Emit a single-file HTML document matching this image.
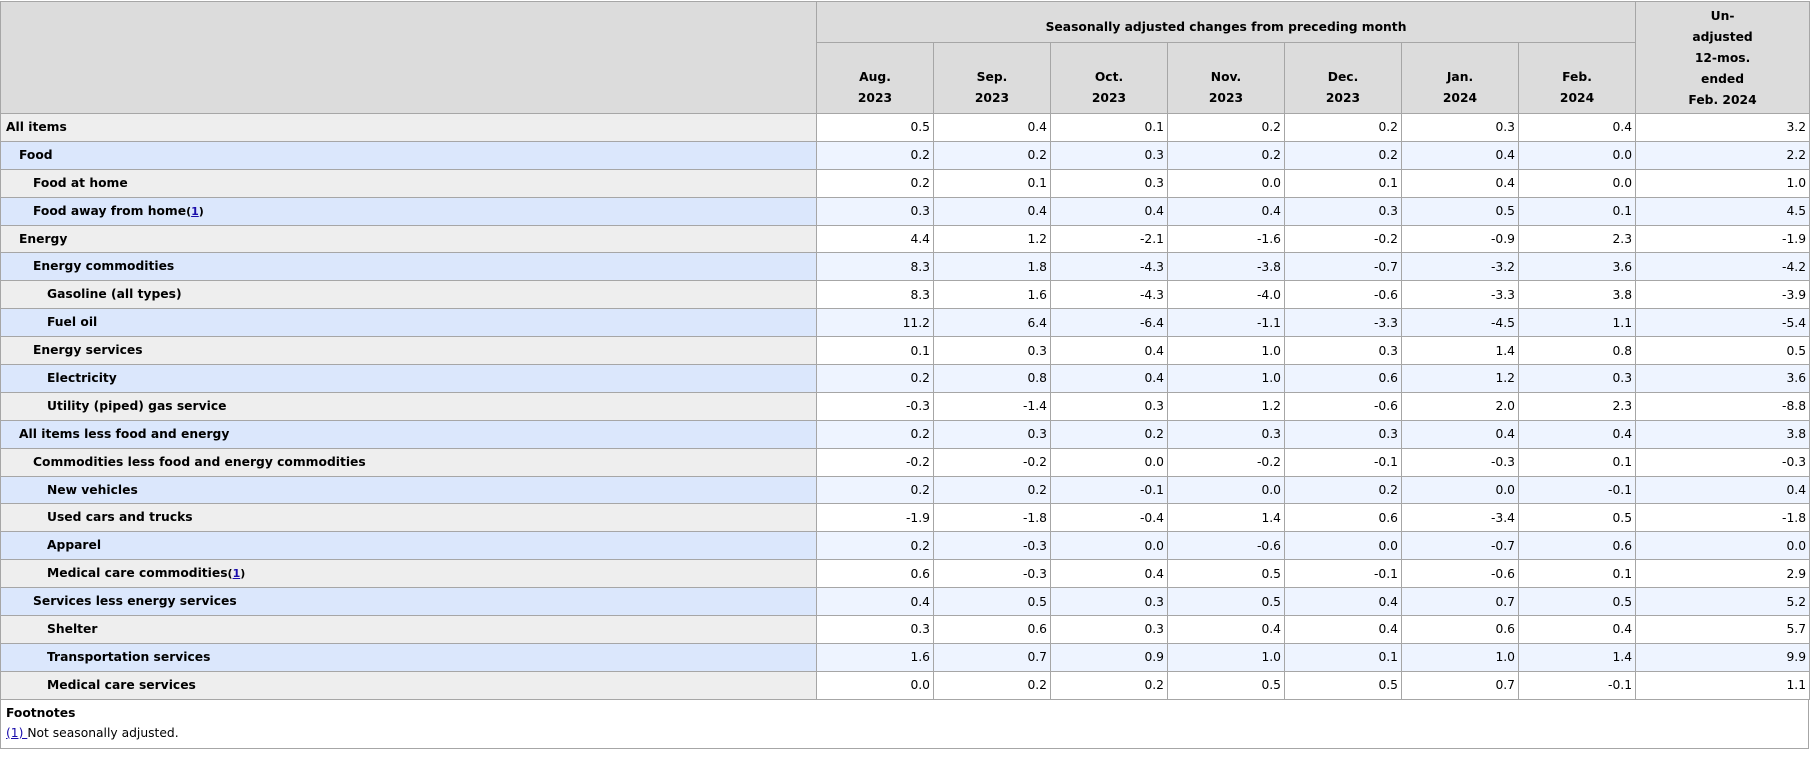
<!DOCTYPE html>
<html><head><meta charset="utf-8"><style>
html,body{margin:0;padding:0;background:#fff;width:1810px;height:759px;overflow:hidden}
body{font-family:"DejaVu Sans","Liberation Sans",sans-serif;font-size:12.3px;color:#000}
table{position:absolute;left:0;top:1px;border-collapse:collapse;table-layout:fixed;width:1809px}
td,th{border:1px solid #a6a6a6;padding:0 3px;box-sizing:border-box;overflow:hidden;white-space:nowrap}
th{background:#dcdcdc;font-weight:bold;text-align:center;line-height:21px}
tbody tr{height:27.9px}
tbody th{text-align:left;font-weight:bold}
tbody td{text-align:right}
tr.g th{background:#eeeeee} tr.g td{background:#fff}
tr.b th{background:#dbe7fc} tr.b td{background:#eef4ff}
.l0{padding-left:5px}.l1{padding-left:18px}.l2{padding-left:32px}.l3{padding-left:46px}
a{color:#1a0dab}
.fn{position:absolute;left:0;top:699px;width:1809px;height:50px;border:1px solid #a6a6a6;border-top:none;box-sizing:border-box;padding:4px 5px;line-height:20px}
</style></head><body>
<table>
<colgroup><col style="width:816px"><col style="width:117px"><col style="width:117px"><col style="width:117px"><col style="width:117px"><col style="width:117px"><col style="width:117px"><col style="width:117px"><col style="width:174px"></colgroup>
<thead>
<tr style="height:41px"><th rowspan="2"></th><th colspan="7" style="padding-top:10px">Seasonally adjusted changes from preceding month</th><th rowspan="2" style="vertical-align:top;padding-top:4px">Un-<br>adjusted<br>12-mos.<br>ended<br>Feb. 2024</th></tr>
<tr style="height:71px"><th style="vertical-align:bottom;padding-bottom:4px">Aug.<br>2023</th><th style="vertical-align:bottom;padding-bottom:4px">Sep.<br>2023</th><th style="vertical-align:bottom;padding-bottom:4px">Oct.<br>2023</th><th style="vertical-align:bottom;padding-bottom:4px">Nov.<br>2023</th><th style="vertical-align:bottom;padding-bottom:4px">Dec.<br>2023</th><th style="vertical-align:bottom;padding-bottom:4px">Jan.<br>2024</th><th style="vertical-align:bottom;padding-bottom:4px">Feb.<br>2024</th></tr>
</thead>
<tbody>
<tr class="g"><th class="l0">All items</th><td>0.5</td><td>0.4</td><td>0.1</td><td>0.2</td><td>0.2</td><td>0.3</td><td>0.4</td><td>3.2</td></tr>
<tr class="b"><th class="l1">Food</th><td>0.2</td><td>0.2</td><td>0.3</td><td>0.2</td><td>0.2</td><td>0.4</td><td>0.0</td><td>2.2</td></tr>
<tr class="g"><th class="l2">Food at home</th><td>0.2</td><td>0.1</td><td>0.3</td><td>0.0</td><td>0.1</td><td>0.4</td><td>0.0</td><td>1.0</td></tr>
<tr class="b"><th class="l2">Food away from home<span style="font-size:11px">(<a href="#">1</a>)</span></th><td>0.3</td><td>0.4</td><td>0.4</td><td>0.4</td><td>0.3</td><td>0.5</td><td>0.1</td><td>4.5</td></tr>
<tr class="g"><th class="l1">Energy</th><td>4.4</td><td>1.2</td><td>-2.1</td><td>-1.6</td><td>-0.2</td><td>-0.9</td><td>2.3</td><td>-1.9</td></tr>
<tr class="b"><th class="l2">Energy commodities</th><td>8.3</td><td>1.8</td><td>-4.3</td><td>-3.8</td><td>-0.7</td><td>-3.2</td><td>3.6</td><td>-4.2</td></tr>
<tr class="g"><th class="l3">Gasoline (all types)</th><td>8.3</td><td>1.6</td><td>-4.3</td><td>-4.0</td><td>-0.6</td><td>-3.3</td><td>3.8</td><td>-3.9</td></tr>
<tr class="b"><th class="l3">Fuel oil</th><td>11.2</td><td>6.4</td><td>-6.4</td><td>-1.1</td><td>-3.3</td><td>-4.5</td><td>1.1</td><td>-5.4</td></tr>
<tr class="g"><th class="l2">Energy services</th><td>0.1</td><td>0.3</td><td>0.4</td><td>1.0</td><td>0.3</td><td>1.4</td><td>0.8</td><td>0.5</td></tr>
<tr class="b"><th class="l3">Electricity</th><td>0.2</td><td>0.8</td><td>0.4</td><td>1.0</td><td>0.6</td><td>1.2</td><td>0.3</td><td>3.6</td></tr>
<tr class="g"><th class="l3">Utility (piped) gas service</th><td>-0.3</td><td>-1.4</td><td>0.3</td><td>1.2</td><td>-0.6</td><td>2.0</td><td>2.3</td><td>-8.8</td></tr>
<tr class="b"><th class="l1">All items less food and energy</th><td>0.2</td><td>0.3</td><td>0.2</td><td>0.3</td><td>0.3</td><td>0.4</td><td>0.4</td><td>3.8</td></tr>
<tr class="g"><th class="l2">Commodities less food and energy commodities</th><td>-0.2</td><td>-0.2</td><td>0.0</td><td>-0.2</td><td>-0.1</td><td>-0.3</td><td>0.1</td><td>-0.3</td></tr>
<tr class="b"><th class="l3">New vehicles</th><td>0.2</td><td>0.2</td><td>-0.1</td><td>0.0</td><td>0.2</td><td>0.0</td><td>-0.1</td><td>0.4</td></tr>
<tr class="g"><th class="l3">Used cars and trucks</th><td>-1.9</td><td>-1.8</td><td>-0.4</td><td>1.4</td><td>0.6</td><td>-3.4</td><td>0.5</td><td>-1.8</td></tr>
<tr class="b"><th class="l3">Apparel</th><td>0.2</td><td>-0.3</td><td>0.0</td><td>-0.6</td><td>0.0</td><td>-0.7</td><td>0.6</td><td>0.0</td></tr>
<tr class="g"><th class="l3">Medical care commodities<span style="font-size:11px">(<a href="#">1</a>)</span></th><td>0.6</td><td>-0.3</td><td>0.4</td><td>0.5</td><td>-0.1</td><td>-0.6</td><td>0.1</td><td>2.9</td></tr>
<tr class="b"><th class="l2">Services less energy services</th><td>0.4</td><td>0.5</td><td>0.3</td><td>0.5</td><td>0.4</td><td>0.7</td><td>0.5</td><td>5.2</td></tr>
<tr class="g"><th class="l3">Shelter</th><td>0.3</td><td>0.6</td><td>0.3</td><td>0.4</td><td>0.4</td><td>0.6</td><td>0.4</td><td>5.7</td></tr>
<tr class="b"><th class="l3">Transportation services</th><td>1.6</td><td>0.7</td><td>0.9</td><td>1.0</td><td>0.1</td><td>1.0</td><td>1.4</td><td>9.9</td></tr>
<tr class="g"><th class="l3">Medical care services</th><td>0.0</td><td>0.2</td><td>0.2</td><td>0.5</td><td>0.5</td><td>0.7</td><td>-0.1</td><td>1.1</td></tr>
</tbody>
</table>
<div class="fn"><b>Footnotes</b><br><a href="#">(1) </a>Not seasonally adjusted.</div>
</body></html>
